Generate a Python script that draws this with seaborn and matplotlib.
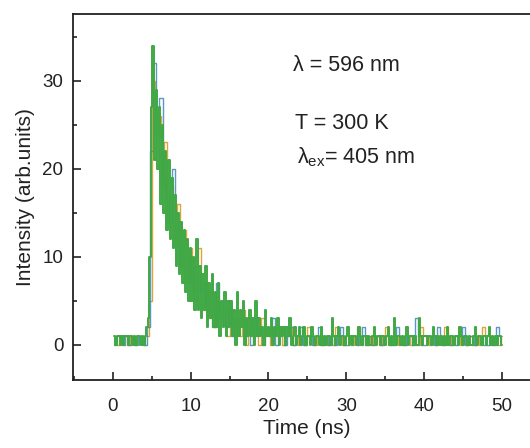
import numpy as np
import pandas as pd
import matplotlib
matplotlib.use("Agg")
import matplotlib.pyplot as plt
import seaborn as sns
from matplotlib.ticker import MultipleLocator

# ---- data (counts) ----
# green trace: 0.2 ns bins, t = 0.2 ... 50.0
green_counts = [
    1, 0, 1, 1, 0,   1, 0, 1, 1, 0,   1, 1, 0, 1, 0,   1, 1, 0, 1, 0,
    1, 2, 3, 10, 27,  34, 21, 29, 20, 27,  16, 25, 15, 22, 13,  21, 12, 19, 11, 17,
    9, 15, 8, 14, 7,  13, 6, 12, 5, 11,  5, 10, 4, 12, 4,  9, 3, 8, 4, 9,
    2, 7, 3, 8, 2,  6, 2, 7, 1, 5,  2, 6, 1, 5, 2,  5, 1, 4, 0, 6,
    1, 4, 2, 5, 0,  3, 1, 4, 1, 3,  0, 5, 1, 3, 1,  2, 0, 4, 1, 2,
    1, 3, 0, 2, 1,  3, 0, 2, 1, 2,  0, 2, 1, 3, 0,  1, 2, 0, 1, 2,
    0, 1, 2, 0, 1,  1, 0, 2, 1, 0,  1, 1, 0, 2, 0,  1, 0, 1, 1, 0,
    3, 1, 0, 1, 2,  0, 1, 1, 0, 1,  2, 0, 1, 0, 1,  1, 0, 2, 1, 0,
    1, 1, 0, 1, 0,  0, 1, 2, 0, 1,  1, 0, 1, 1, 0,  1, 2, 0, 1, 0,
    3, 0, 1, 1, 0,  1, 0, 1, 2, 0,  1, 1, 0, 1, 0,  0, 3, 1, 0, 1,
    1, 0, 1, 1, 0,  2, 1, 0, 1, 0,  1, 0, 1, 0, 2,  0, 1, 1, 0, 1,
    1, 0, 2, 1, 0,  1, 1, 0, 1, 0,  0, 1, 2, 0, 1,  1, 0, 1, 1, 0,
    1, 2, 0, 1, 0,  1, 0, 1, 1, 0,
]
# orange trace: 0.4 ns bins, t = 0.4 ... 50.0
orange_counts = [
    1, 0, 1, 1, 0,  1, 0, 1, 1, 0,  1, 5, 30, 24, 26,  18, 23, 14, 18, 12,
    16, 9, 13, 7, 11,  6, 9, 11, 4, 7,  3, 6, 2, 5, 3,  5, 1, 4, 2, 3,
    1, 4, 0, 3, 1,  2, 0, 3, 1, 2,  0, 2, 1, 2, 0,  1, 2, 0, 1, 0,
    1, 0, 2, 1, 0,  1, 0, 1, 0, 1,  0, 2, 1, 0, 1,  1, 0, 1, 2, 0,
    1, 0, 1, 0, 1,  0, 1, 2, 0, 1,  1, 0, 1, 0, 1,  0, 1, 0, 2, 1,
    1, 0, 1, 0, 1,  0, 2, 1, 0, 1,  1, 0, 1, 0, 1,  0, 1, 0, 2, 1,
    1, 0, 1, 0, 1,
]
# blue trace: 0.4 ns bins, t = 0.2 ... 49.8
blue_counts = [
    0, 1, 1, 0, 1,  0, 1, 0, 1, 1,  0, 2, 22, 32, 24,  28, 19, 17, 14, 20,
    11, 14, 9, 12, 7,  10, 5, 8, 6, 7,  4, 6, 2, 7, 3,  4, 2, 5, 1, 3,
    2, 4, 1, 3, 0,  3, 1, 2, 0, 2,  1, 3, 0, 1, 2,  0, 1, 2, 0, 1,
    2, 0, 1, 1, 0,  1, 2, 0, 1, 0,  1, 0, 1, 2, 0,  0, 1, 1, 0, 1,
    2, 0, 1, 0, 1,  1, 0, 1, 1, 0,  0, 2, 1, 0, 1,  1, 0, 3, 1, 0,
    0, 1, 1, 0, 2,  1, 0, 1, 0, 1,  0, 1, 2, 0, 1,  1, 0, 1, 1, 0,
    0, 1, 0, 2, 1,
]
green_t = 0.2 * (np.arange(len(green_counts)) + 1)
orange_t = 0.4 * (np.arange(len(orange_counts)) + 1)
blue_t = 0.2 + 0.4 * np.arange(len(blue_counts))

x_ticks = [0, 10, 20, 30, 40, 50]
y_ticks = [0, 10, 20, 30]
annotations = ["λ = 596 nm", "T = 300 K", r"λ$_{\mathregular{ex}}$= 405 nm"]

# ---- style ----
sns.set_theme(style="ticks")
plt.rcParams["font.family"] = ["Liberation Sans", "DejaVu Sans"]
plt.rcParams["mathtext.fontset"] = "custom"
plt.rcParams["mathtext.rm"] = "Liberation Sans"
plt.rcParams["mathtext.it"] = "Liberation Sans:italic"
plt.rcParams["mathtext.bf"] = "Liberation Sans:bold"

fig = plt.figure(figsize=(5.30, 4.48), dpi=100)
ax = fig.add_axes([73 / 530, 68 / 448, (541 - 73) / 530, (434 - 68) / 448])

df_o = pd.DataFrame({"t": orange_t, "I": orange_counts})
df_b = pd.DataFrame({"t": blue_t, "I": blue_counts})
df_g = pd.DataFrame({"t": green_t, "I": green_counts})

sns.lineplot(data=df_o, x="t", y="I", ax=ax, color="#d9a63c", linewidth=1.0,
             estimator=None, sort=False, drawstyle="steps-mid")
sns.lineplot(data=df_b, x="t", y="I", ax=ax, color="#3f86b6", linewidth=1.0,
             estimator=None, sort=False, alpha=0.85, drawstyle="steps-mid")
sns.lineplot(data=df_g, x="t", y="I", ax=ax, color="#40a845", linewidth=1.4,
             estimator=None, sort=False, drawstyle="steps-mid")

ax.set_xlim(-5.1, 55)
ax.set_ylim(-4, 37.6)
ax.set_xticks(x_ticks)
ax.set_yticks(y_ticks)
ax.xaxis.set_minor_locator(MultipleLocator(5))
ax.yaxis.set_minor_locator(MultipleLocator(5))
ax.tick_params(which="both", direction="in", top=False, right=False,
               width=1.2, color="#222222", labelsize=13.5, labelcolor="#222222")
ax.tick_params(which="major", length=6)
ax.tick_params(which="minor", length=3)
ax.tick_params(axis="x", which="major", pad=13)
ax.tick_params(axis="y", which="major", pad=7)
for s in ax.spines.values():
    s.set_visible(True)
    s.set_linewidth(1.3)
    s.set_color("#222222")

ax.set_xlabel("Time (ns)", fontsize=15, color="#222222", labelpad=3)
ax.set_ylabel("Intensity (arb.units)", fontsize=15, color="#222222", labelpad=5)

ax.text(23.1, 31.8, annotations[0], fontsize=15.5, va="center", ha="left", color="#222222")
ax.text(23.4, 25.1, annotations[1], fontsize=15.5, va="center", ha="left", color="#222222")
ax.text(23.7, 21.3, annotations[2], fontsize=15.5, va="center", ha="left", color="#222222")

fig.savefig("out.png", dpi=100)
